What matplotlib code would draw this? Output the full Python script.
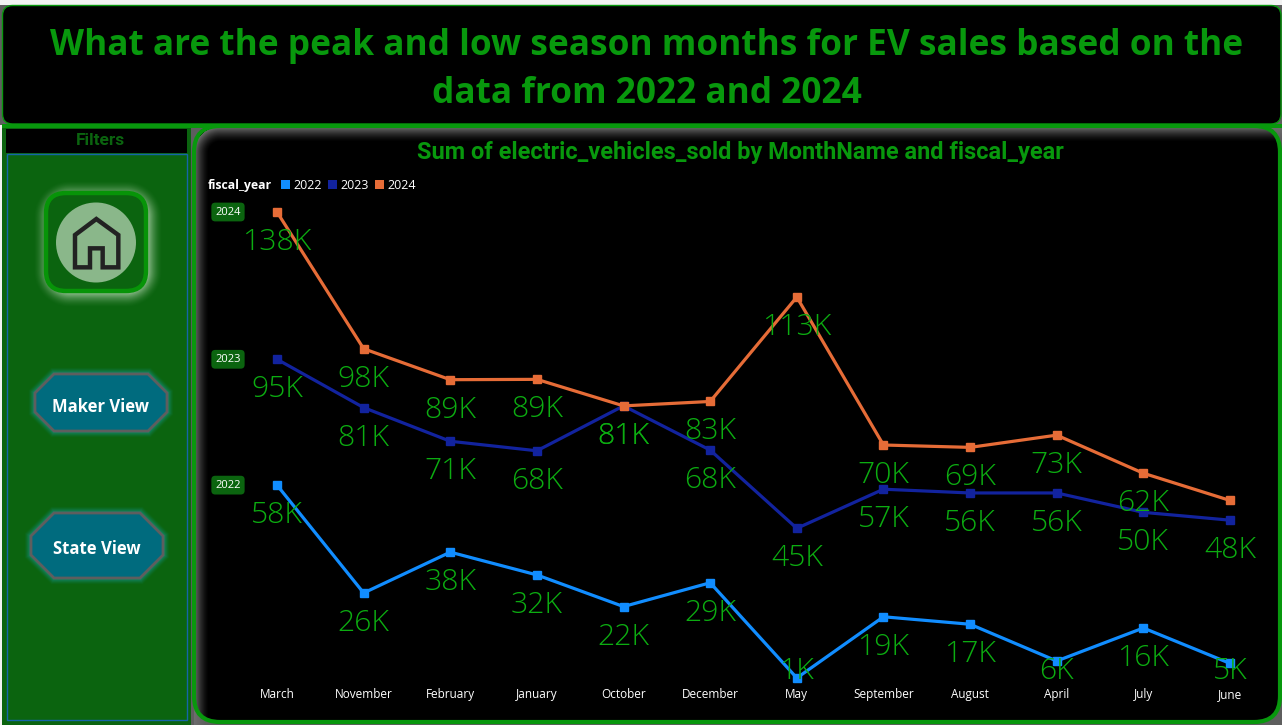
import numpy as np
import matplotlib
matplotlib.use("Agg")
import matplotlib.pyplot as plt
from matplotlib.patches import FancyBboxPatch, Rectangle, Circle, Polygon

W, H = 1282, 725
months = ["March", "November", "February", "January", "October", "December",
          "May", "September", "August", "April", "July", "June"]
years = ["2022", "2023", "2024"]
sales_2022 = [57.7, 26, 38, 31.3, 22, 29, 1, 19, 16.8, 6, 15.7, 5.3]
sales_2023 = [94.7, 80.5, 70.6, 67.8, 81, 68, 45, 56.5, 55.4, 55.4, 49.7, 47.4]
sales_2024 = [138, 97.8, 88.7, 88.8, 81, 82.3, 113, 69.5, 68.8, 72.4, 61.2, 53.2]
labels_2022 = ["58K", "26K", "38K", "32K", "22K", "29K", "1K", "19K", "17K", "6K", "16K", "5K"]
labels_2023 = ["95K", "81K", "71K", "68K", "81K", "68K", "45K", "57K", "56K", "56K", "50K", "48K"]
labels_2024 = ["138K", "98K", "89K", "89K", "81K", "83K", "113K", "70K", "69K", "73K", "62K", ""]
colors = ["#118DFF", "#12239E", "#E66C37"]
title = "What are the peak and low season months for EV sales based on the\ndata from 2022 and 2024"
chart_title = "Sum of electric_vehicles_sold by MonthName and fiscal_year"

GREEN = "#08980D"
LABEL_GREEN = "#0CAC11"
DARK = "#0B640F"
GRAY = "#5E5E5E"
UI = "Open Sans"

fig = plt.figure(figsize=(W / 100, H / 100), dpi=100, facecolor="#F2F2F2")
bg = fig.add_axes([0, 0, 1, 1], zorder=0)
bg.set_xlim(0, W)
bg.set_ylim(H, 0)
bg.axis("off")


def rbox(x0, y0, x1, y1, r, **kw):
    p = FancyBboxPatch((x0 + r, y0 + r), x1 - x0 - 2 * r, y1 - y0 - 2 * r,
                       boxstyle=f"round,pad={r},rounding_size={r}", **kw)
    bg.add_patch(p)
    return p


XS, YS = np.meshgrid(np.arange(W) + .5, np.arange(H) + .5)


def sdf(x0, y0, x1, y1, r):
    cx, cy = (x0 + x1) / 2, (y0 + y1) / 2
    qx = np.abs(XS - cx) - ((x1 - x0) / 2 - r)
    qy = np.abs(YS - cy) - ((y1 - y0) / 2 - r)
    return np.hypot(np.maximum(qx, 0), np.maximum(qy, 0)) + np.minimum(np.maximum(qx, qy), 0) - r


def oct_sdf(x0, y0, x1, y1, c):
    cx, cy = (x0 + x1) / 2, (y0 + y1) / 2
    a, b = (x1 - x0) / 2, (y1 - y0) / 2
    px, py = np.abs(XS - cx), np.abs(YS - cy)
    return np.maximum.reduce([px - a, py - b, (px + py - (a + b - c)) / np.sqrt(2)])


def glow(d, rgb, size, strength=1.0, z=2, power=1.5):
    a = np.clip(1 - d / size, 0, 1)
    a[d < 0] = 0
    img = np.zeros((H, W, 4))
    img[..., :3] = matplotlib.colors.to_rgb(rgb)
    img[..., 3] = strength * a ** power
    bg.imshow(img, extent=(0, W, H, 0), aspect="auto", zorder=z, interpolation="bilinear")


# page
bg.add_patch(Rectangle((191, 124), W - 191, H - 124, fc=GRAY, ec="none", zorder=0))
bg.add_patch(Rectangle((2, 124), 189, H - 124, fc=DARK, ec="none", zorder=1))
bg.add_patch(Rectangle((0, 5), W, 120, fc=GRAY, ec="none", zorder=0))

# title panel
rbox(2.5, 5.5, 1281, 124, 10, fc="black", ec=GREEN, lw=1, zorder=3)
bg.add_patch(Rectangle((2, 124), W - 2, 3.5, fc=GREEN, ec="none", zorder=3))
bg.text(647, 70, title, ha="center", va="center", color=GREEN, fontsize=25.4,
        fontweight="bold", family=UI, linespacing=1.42, zorder=5)

# filter panel
bg.add_patch(Rectangle((6, 129), 181, 24, fc="black", ec="none", zorder=3))
bg.text(100.5, 140.5, "Filters", ha="center", va="center", color=DARK, fontsize=12.5,
        fontweight="bold", family="Roboto", zorder=5)
bg.add_patch(Rectangle((6.5, 153.5), 180.5, 566.5, fc=DARK, ec="#1565A8", lw=1, zorder=3))

# chart panel: inner shadow falls from the top and left edges only
rbox(194, 126, 1280, 722, 26, fc="black", ec="none", zorder=1.5)
glow(-sdf(194, 127, 1330, 770, 26), "#6E6E6E", 15, 1.0, z=2)
rbox(194, 126, 1280, 722, 26, fc="none", ec=GREEN, lw=3, zorder=3)
bg.text(740.5, 152, chart_title, ha="center", va="center", color=GREEN, fontsize=16.9,
        fontweight="bold", family="Roboto", zorder=5)

# home button
glow(np.maximum(sdf(48, 195, 148, 293, 22), 0.01), "#BFDDBB", 15, 0.7, z=3.2, power=1.8)
rbox(46, 193, 146, 291, 20, fc=DARK, ec="#079408", lw=3.2, zorder=4)
bg.add_patch(Circle((96, 242.5), 40, fc="#8AB78A", ec="none", zorder=4.5))
house = [(225, 345), (289, 297), (355, 345), (355, 442), (308, 442), (308, 385),
         (270, 385), (270, 442), (225, 442)]
bg.add_patch(Polygon([(x / 3, 120 + y / 3) for x, y in house], closed=True, fc="none",
                     ec="#222222", lw=3.2, joinstyle="miter", zorder=5))


# view buttons
def octagon(x0, y0, x1, y1, c):
    return [(x0 + c, y0), (x1 - c, y0), (x1, y0 + c), (x1, y1 - c),
            (x1 - c, y1), (x0 + c, y1), (x0, y1 - c), (x0, y0 + c)]


for (x0, y0, x1, y1, c, name, tx) in [(35, 374, 167, 431, 19, "Maker View", 101),
                                      (31, 513, 163, 578, 23, "State View", 97)]:
    d = np.maximum(oct_sdf(x0, y0, x1, y1, c), 0.01)
    glow(d, "#1AA7C4", 7, 0.6, z=3.2)
    bg.add_patch(Polygon(octagon(x0, y0, x1, y1, c), closed=True, fc="#006B7E", ec=GRAY,
                         lw=2, zorder=4))
    bg.text(tx, (y0 + y1) / 2 + 4, name, ha="center", va="center", color="white",
            fontsize=12, fontweight="bold", family=UI, zorder=5)

# chart axes: 3.4 px per thousand, March at x=277, June at x=1230
ax = fig.add_axes([233.7 / W, 1 - 690 / H, (1273.3 - 233.7) / W, (690 - 200) / H], zorder=2)
ax.patch.set_alpha(0)
ax.set_xlim(-0.5, 11.5)
ax.set_ylim(-2.53, 141.53)
for s in ax.spines.values():
    s.set_visible(False)
ax.set_yticks([])
ax.set_xticks(range(len(months)))
ax.set_xticklabels(months, color="white", fontsize=8.5, family=UI, va="baseline")
ax.tick_params(axis="x", length=0, pad=5.8)

all_sales = [sales_2022, sales_2023, sales_2024]
all_labels = [labels_2022, labels_2023, labels_2024]
x = np.arange(len(months))
for vals, labs, col, yr in zip(all_sales, all_labels, colors, years):
    ax.plot(x, vals, color=col, lw=2.3, marker="s", ms=5.8, solid_joinstyle="miter", zorder=3)
    for xi, v, lab in zip(x, vals, labs):
        if lab:
            # label sits below its point but is held inside the plot floor
            yl = max(v - 8.9, 1 + 2.1)
            ax.text(xi, yl, lab, ha="center", va="center", color=LABEL_GREEN, fontsize=21.7,
                    fontweight=300, family=UI, zorder=4, clip_on=False)
    ax.annotate(yr, (0, vals[0]), xytext=(-35.3, 0), textcoords="offset points", ha="center",
                va="center", color="white", fontsize=8, family=UI, zorder=5,
                bbox=dict(boxstyle="round,pad=0.35,rounding_size=0.35", fc=DARK, ec="none"),
                annotation_clip=False)

# legend
bg.text(208, 185, "fiscal_year", ha="left", va="center", color="white", fontsize=8.8,
        fontweight="bold", family=UI, zorder=5)
for xp, col, yr in zip([281, 328, 375], colors, years):
    bg.add_patch(Rectangle((xp, 180), 9, 9, fc=col, ec="none", zorder=5))
    bg.text(xp + 12, 185, yr, ha="left", va="center", color="white", fontsize=9,
            family=UI, zorder=5)

bg.set_xlim(0, W)
bg.set_ylim(H, 0)
fig.savefig("out.png", dpi=100, facecolor=fig.get_facecolor())
